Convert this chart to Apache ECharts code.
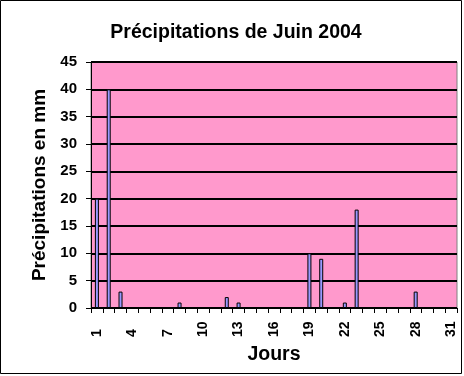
<!DOCTYPE html>
<html>
<head>
<meta charset="utf-8">
<script src="https://cdn.jsdelivr.net/npm/echarts@6/dist/echarts.min.js"></script>
<style>
  html, body { margin: 0; padding: 0; background: #fff; }
  #chart { width: 464px; height: 376px; }
</style>
</head>
<body>
<div id="chart"></div>
<script>
var days = ["1", "2", "3", "4", "5", "6", "7", "8", "9", "10", "11", "12", "13", "14", "15", "16",
  "17", "18", "19", "20", "21", "22", "23", "24", "25", "26", "27", "28", "29", "30", "31"];
var pluie = [20, 40, 3, 0, 0, 0, 0, 1, 0, 0, 0, 2, 1, 0, 0, 0,
  0, 0, 10, 9, 0, 1, 18, 0, 0, 0, 0, 3, 0, 0, 0];
var yMax = 45;
var yStep = 5;

var chart = echarts.init(document.getElementById("chart"));
var font = "'Liberation Sans', Arial, sans-serif";
chart.setOption({
  animation: false,
  backgroundColor: "#ffffff",
  textStyle: { fontFamily: font },
  title: {
    text: "Précipitations de Juin 2004",
    left: 231,
    textAlign: "center",
    top: 18,
    textStyle: { fontSize: 19.5, fontWeight: "bold", color: "#000", fontFamily: font }
  },
  graphic: [{
    type: "rect",
    shape: { x: 0.5, y: 0.5, width: 461, height: 373 },
    style: { fill: null, stroke: "#000", lineWidth: 1 },
    silent: true
  }],
  grid: {
    left: 91,
    right: 7,
    top: 62,
    bottom: 68,
    show: true,
    backgroundColor: "#FF99CC",
    borderColor: "#808080",
    borderWidth: 1
  },
  xAxis: {
    type: "category",
    data: days,
    boundaryGap: true,
    name: "Jours",
    nameLocation: "middle",
    nameGap: 37,
    nameTextStyle: { fontSize: 19.5, fontWeight: "bold", color: "#000" },
    axisLine: { lineStyle: { color: "#000", width: 1 } },
    axisTick: { show: true, interval: 0, length: 5, lineStyle: { color: "#000" } },
    axisLabel: {
      interval: 2,
      rotate: 90,
      align: "left",
      margin: 29,
      fontSize: 14,
      fontWeight: "bold",
      color: "#000"
    },
    splitLine: { show: false }
  },
  yAxis: {
    type: "value",
    min: 0,
    max: yMax,
    interval: yStep,
    name: "Précipitations en mm",
    nameLocation: "middle",
    nameGap: 41,
    nameTextStyle: { fontSize: 19, fontWeight: "bold", color: "#000" },
    axisLine: { show: true, lineStyle: { color: "#000", width: 1 } },
    axisTick: { show: true, length: 5, lineStyle: { color: "#000" } },
    axisLabel: { fontSize: 15, fontWeight: "bold", color: "#000", margin: 14 },
    splitLine: { show: true, lineStyle: { color: "#000", width: 2 } }
  },
  series: [{
    type: "bar",
    data: pluie,
    barWidth: 4,
    itemStyle: { color: "#9999FF", borderColor: "#000", borderWidth: 1 }
  }]
});
</script>
</body>
</html>
